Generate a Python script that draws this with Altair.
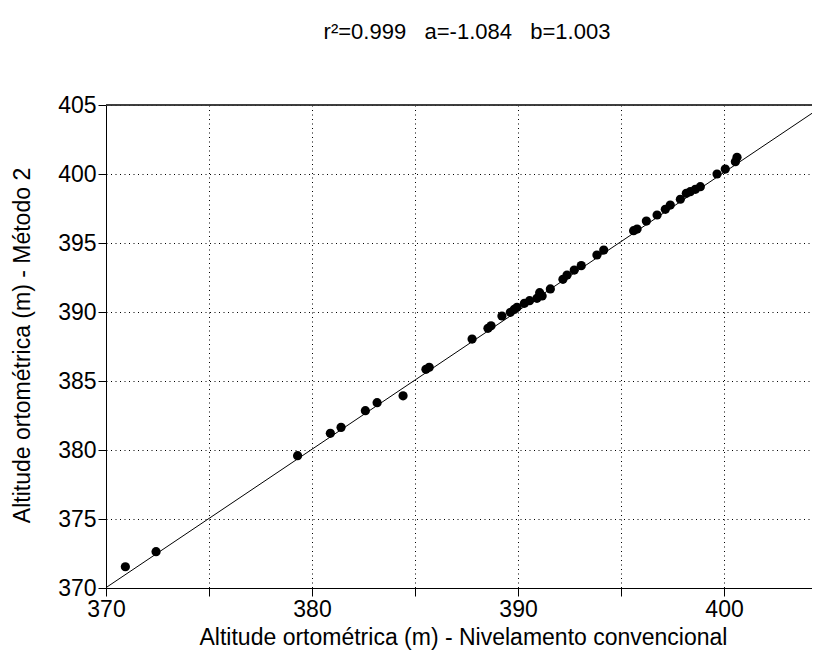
import altair as alt
import pandas as pd

x_conv = [370.94, 372.43, 379.30, 380.89, 381.41, 382.59, 383.16, 384.42, 385.53, 385.69,
          387.77, 388.54, 388.69, 389.22, 389.63, 389.82, 389.95, 390.31, 390.56, 390.92,
          391.05, 391.17, 391.57, 392.18, 392.38, 392.73, 393.07, 393.83, 394.16, 395.61,
          395.78, 396.23, 396.75, 397.15, 397.39, 397.88, 398.17, 398.36, 398.61, 398.85,
          399.66, 400.06, 400.55, 400.63]
y_met2 = [371.54, 372.63, 379.59, 381.21, 381.64, 382.85, 383.43, 383.93, 385.85, 385.99,
          388.04, 388.82, 389.00, 389.71, 389.98, 390.19, 390.34, 390.63, 390.82, 390.99,
          391.40, 391.16, 391.67, 392.37, 392.68, 393.04, 393.36, 394.13, 394.49, 395.89,
          396.01, 396.59, 397.03, 397.44, 397.75, 398.17, 398.60, 398.72, 398.89, 399.08,
          400.00, 400.36, 400.89, 401.21]

stat_r2 = 0.999
stat_a = -1.084
stat_b = 1.003

x_domain = [370, 404.27]
y_domain = [370, 405]
x_ticks = [370, 375, 380, 385, 390, 395, 400]
y_ticks = [370, 375, 380, 385, 390, 395, 400, 405]

x_title = "Altitude ortométrica (m) - Nivelamento convencional"
y_title = "Altitude ortométrica (m) - Método 2"
gap = "\u00a0\u00a0\u00a0"
header = f"r²={stat_r2:.3f}{gap}a={stat_a:.3f}{gap}b={stat_b:.3f}"

pts = pd.DataFrame({"x": x_conv, "y": y_met2})
fit = pd.DataFrame({"x": x_domain, "y": [stat_a + stat_b * v for v in x_domain]})
hdr = pd.DataFrame({"t": [header]})

FONT = "Liberation Sans"

xs = alt.Scale(domain=x_domain, nice=False, zero=False)
ys = alt.Scale(domain=y_domain, nice=False, zero=False)

def x_axis():
    return alt.Axis(values=x_ticks, labelExpr="datum.value % 10 == 0 ? datum.label : ''",
                    title=x_title, titleX=357, titleY=49, titleBaseline="middle",
                    titleAnchor="middle", grid=True, labelPadding=2, labelFlush=False)

def y_axis():
    return alt.Axis(values=y_ticks, title=y_title, titleX=-84, titleY=240,
                    titleBaseline="middle", titleAngle=-90, grid=True, labelPadding=2,
                    labelFlush=False)

line = alt.Chart(fit).mark_line(color="black", strokeWidth=1, clip=True).encode(
    x=alt.X("x:Q", scale=xs, axis=x_axis()),
    y=alt.Y("y:Q", scale=ys, axis=y_axis()),
)

points = alt.Chart(pts).mark_circle(size=85, color="black", opacity=1).encode(
    x=alt.X("x:Q", scale=xs, axis=x_axis()),
    y=alt.Y("y:Q", scale=ys, axis=y_axis()),
)

top_rule = alt.Chart(fit).mark_rule(color="#333333", strokeWidth=1.5).encode(
    y=alt.value(0)
)

text = alt.Chart(hdr).mark_text(font=FONT, fontSize=22, color="black",
                                baseline="alphabetic", align="center").encode(
    x=alt.value(361), y=alt.value(-66), text="t:N"
)

chart = alt.layer(line, points, top_rule, text).properties(
    width=706, height=483,
    autosize=alt.AutoSizeParams(type="none"),
    padding={"left": 98, "top": 97, "right": 0, "bottom": 62},
).configure_view(stroke=None).configure_axis(
    labelFont=FONT, titleFont=FONT, labelFontSize=23, titleFontSize=23,
    titleFontWeight="normal", labelColor="black", titleColor="black",
    domainColor="black", domainWidth=1, tickColor="black", tickSize=8,
    gridColor="black", gridDash=[1, 3.5], gridOpacity=1, gridWidth=1,
)

chart.save("out.html", embed_options={"renderer": "svg", "actions": False})
